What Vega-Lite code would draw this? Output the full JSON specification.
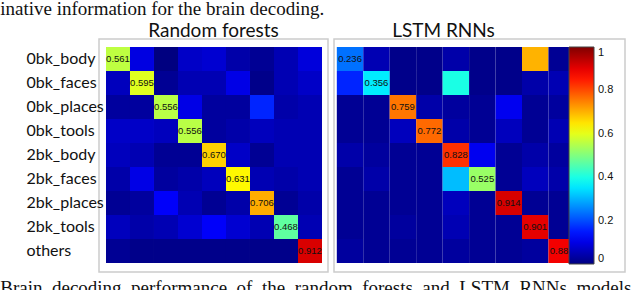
{
  "$schema": "https://vega.github.io/schema/vega-lite/v6.json",
  "padding": 0,
  "background": "white",
  "title": {"text": "inative information for the brain decoding.", "anchor": "start", "font": "Liberation Serif", "fontSize": 19, "fontWeight": "normal", "color": "#111111", "offset": 2},
  "datasets": {
    "cm": [
      {"m":"RF","t":"0bk_body","p":"0bk_body","v":0.561},{"m":"RF","t":"0bk_body","p":"0bk_faces","v":0.095},{"m":"RF","t":"0bk_body","p":"0bk_places","v":0.0},{"m":"RF","t":"0bk_body","p":"0bk_tools","v":0.07},{"m":"RF","t":"0bk_body","p":"2bk_body","v":0.08},{"m":"RF","t":"0bk_body","p":"2bk_faces","v":0.04},{"m":"RF","t":"0bk_body","p":"2bk_places","v":0.02},{"m":"RF","t":"0bk_body","p":"2bk_tools","v":0.05},{"m":"RF","t":"0bk_body","p":"others","v":0.09},
      {"m":"RF","t":"0bk_faces","p":"0bk_body","v":0.06},{"m":"RF","t":"0bk_faces","p":"0bk_faces","v":0.595},{"m":"RF","t":"0bk_faces","p":"0bk_places","v":0.02},{"m":"RF","t":"0bk_faces","p":"0bk_tools","v":0.05},{"m":"RF","t":"0bk_faces","p":"2bk_body","v":0.05},{"m":"RF","t":"0bk_faces","p":"2bk_faces","v":0.10},{"m":"RF","t":"0bk_faces","p":"2bk_places","v":0.01},{"m":"RF","t":"0bk_faces","p":"2bk_tools","v":0.05},{"m":"RF","t":"0bk_faces","p":"others","v":0.07},
      {"m":"RF","t":"0bk_places","p":"0bk_body","v":0.03},{"m":"RF","t":"0bk_places","p":"0bk_faces","v":0.03},{"m":"RF","t":"0bk_places","p":"0bk_places","v":0.556},{"m":"RF","t":"0bk_places","p":"0bk_tools","v":0.10},{"m":"RF","t":"0bk_places","p":"2bk_body","v":0.03},{"m":"RF","t":"0bk_places","p":"2bk_faces","v":0.03},{"m":"RF","t":"0bk_places","p":"2bk_places","v":0.16},{"m":"RF","t":"0bk_places","p":"2bk_tools","v":0.04},{"m":"RF","t":"0bk_places","p":"others","v":0.05},
      {"m":"RF","t":"0bk_tools","p":"0bk_body","v":0.07},{"m":"RF","t":"0bk_tools","p":"0bk_faces","v":0.07},{"m":"RF","t":"0bk_tools","p":"0bk_places","v":0.06},{"m":"RF","t":"0bk_tools","p":"0bk_tools","v":0.556},{"m":"RF","t":"0bk_tools","p":"2bk_body","v":0.03},{"m":"RF","t":"0bk_tools","p":"2bk_faces","v":0.04},{"m":"RF","t":"0bk_tools","p":"2bk_places","v":0.06},{"m":"RF","t":"0bk_tools","p":"2bk_tools","v":0.05},{"m":"RF","t":"0bk_tools","p":"others","v":0.05},
      {"m":"RF","t":"2bk_body","p":"0bk_body","v":0.06},{"m":"RF","t":"2bk_body","p":"0bk_faces","v":0.05},{"m":"RF","t":"2bk_body","p":"0bk_places","v":0.02},{"m":"RF","t":"2bk_body","p":"0bk_tools","v":0.02},{"m":"RF","t":"2bk_body","p":"2bk_body","v":0.670},{"m":"RF","t":"2bk_body","p":"2bk_faces","v":0.07},{"m":"RF","t":"2bk_body","p":"2bk_places","v":0.02},{"m":"RF","t":"2bk_body","p":"2bk_tools","v":0.05},{"m":"RF","t":"2bk_body","p":"others","v":0.05},
      {"m":"RF","t":"2bk_faces","p":"0bk_body","v":0.04},{"m":"RF","t":"2bk_faces","p":"0bk_faces","v":0.10},{"m":"RF","t":"2bk_faces","p":"0bk_places","v":0.03},{"m":"RF","t":"2bk_faces","p":"0bk_tools","v":0.04},{"m":"RF","t":"2bk_faces","p":"2bk_body","v":0.06},{"m":"RF","t":"2bk_faces","p":"2bk_faces","v":0.631},{"m":"RF","t":"2bk_faces","p":"2bk_places","v":0.05},{"m":"RF","t":"2bk_faces","p":"2bk_tools","v":0.04},{"m":"RF","t":"2bk_faces","p":"others","v":0.05},
      {"m":"RF","t":"2bk_places","p":"0bk_body","v":0.02},{"m":"RF","t":"2bk_places","p":"0bk_faces","v":0.03},{"m":"RF","t":"2bk_places","p":"0bk_places","v":0.12},{"m":"RF","t":"2bk_places","p":"0bk_tools","v":0.05},{"m":"RF","t":"2bk_places","p":"2bk_body","v":0.02},{"m":"RF","t":"2bk_places","p":"2bk_faces","v":0.04},{"m":"RF","t":"2bk_places","p":"2bk_places","v":0.706},{"m":"RF","t":"2bk_places","p":"2bk_tools","v":0.02},{"m":"RF","t":"2bk_places","p":"others","v":0.04},
      {"m":"RF","t":"2bk_tools","p":"0bk_body","v":0.06},{"m":"RF","t":"2bk_tools","p":"0bk_faces","v":0.04},{"m":"RF","t":"2bk_tools","p":"0bk_places","v":0.05},{"m":"RF","t":"2bk_tools","p":"0bk_tools","v":0.08},{"m":"RF","t":"2bk_tools","p":"2bk_body","v":0.12},{"m":"RF","t":"2bk_tools","p":"2bk_faces","v":0.08},{"m":"RF","t":"2bk_tools","p":"2bk_places","v":0.05},{"m":"RF","t":"2bk_tools","p":"2bk_tools","v":0.468},{"m":"RF","t":"2bk_tools","p":"others","v":0.05},
      {"m":"RF","t":"others","p":"0bk_body","v":0.02},{"m":"RF","t":"others","p":"0bk_faces","v":0.01},{"m":"RF","t":"others","p":"0bk_places","v":0.01},{"m":"RF","t":"others","p":"0bk_tools","v":0.01},{"m":"RF","t":"others","p":"2bk_body","v":0.01},{"m":"RF","t":"others","p":"2bk_faces","v":0.01},{"m":"RF","t":"others","p":"2bk_places","v":0.01},{"m":"RF","t":"others","p":"2bk_tools","v":0.01},{"m":"RF","t":"others","p":"others","v":0.912},
      {"m":"LSTM","t":"0bk_body","p":"0bk_body","v":0.236},{"m":"LSTM","t":"0bk_body","p":"0bk_faces","v":0.05},{"m":"LSTM","t":"0bk_body","p":"0bk_places","v":0.01},{"m":"LSTM","t":"0bk_body","p":"0bk_tools","v":0.01},{"m":"LSTM","t":"0bk_body","p":"2bk_body","v":0.04},{"m":"LSTM","t":"0bk_body","p":"2bk_faces","v":0.01},{"m":"LSTM","t":"0bk_body","p":"2bk_places","v":0.01},{"m":"LSTM","t":"0bk_body","p":"2bk_tools","v":0.70},{"m":"LSTM","t":"0bk_body","p":"others","v":0.02},
      {"m":"LSTM","t":"0bk_faces","p":"0bk_body","v":0.16},{"m":"LSTM","t":"0bk_faces","p":"0bk_faces","v":0.356},{"m":"LSTM","t":"0bk_faces","p":"0bk_places","v":0.01},{"m":"LSTM","t":"0bk_faces","p":"0bk_tools","v":0.01},{"m":"LSTM","t":"0bk_faces","p":"2bk_body","v":0.40},{"m":"LSTM","t":"0bk_faces","p":"2bk_faces","v":0.01},{"m":"LSTM","t":"0bk_faces","p":"2bk_places","v":0.01},{"m":"LSTM","t":"0bk_faces","p":"2bk_tools","v":0.04},{"m":"LSTM","t":"0bk_faces","p":"others","v":0.05},
      {"m":"LSTM","t":"0bk_places","p":"0bk_body","v":0.02},{"m":"LSTM","t":"0bk_places","p":"0bk_faces","v":0.02},{"m":"LSTM","t":"0bk_places","p":"0bk_places","v":0.759},{"m":"LSTM","t":"0bk_places","p":"0bk_tools","v":0.04},{"m":"LSTM","t":"0bk_places","p":"2bk_body","v":0.03},{"m":"LSTM","t":"0bk_places","p":"2bk_faces","v":0.02},{"m":"LSTM","t":"0bk_places","p":"2bk_places","v":0.11},{"m":"LSTM","t":"0bk_places","p":"2bk_tools","v":0.02},{"m":"LSTM","t":"0bk_places","p":"others","v":0.03},
      {"m":"LSTM","t":"0bk_tools","p":"0bk_body","v":0.02},{"m":"LSTM","t":"0bk_tools","p":"0bk_faces","v":0.02},{"m":"LSTM","t":"0bk_tools","p":"0bk_places","v":0.06},{"m":"LSTM","t":"0bk_tools","p":"0bk_tools","v":0.772},{"m":"LSTM","t":"0bk_tools","p":"2bk_body","v":0.04},{"m":"LSTM","t":"0bk_tools","p":"2bk_faces","v":0.02},{"m":"LSTM","t":"0bk_tools","p":"2bk_places","v":0.06},{"m":"LSTM","t":"0bk_tools","p":"2bk_tools","v":0.02},{"m":"LSTM","t":"0bk_tools","p":"others","v":0.05},
      {"m":"LSTM","t":"2bk_body","p":"0bk_body","v":0.04},{"m":"LSTM","t":"2bk_body","p":"0bk_faces","v":0.03},{"m":"LSTM","t":"2bk_body","p":"0bk_places","v":0.02},{"m":"LSTM","t":"2bk_body","p":"0bk_tools","v":0.02},{"m":"LSTM","t":"2bk_body","p":"2bk_body","v":0.828},{"m":"LSTM","t":"2bk_body","p":"2bk_faces","v":0.11},{"m":"LSTM","t":"2bk_body","p":"2bk_places","v":0.02},{"m":"LSTM","t":"2bk_body","p":"2bk_tools","v":0.04},{"m":"LSTM","t":"2bk_body","p":"others","v":0.03},
      {"m":"LSTM","t":"2bk_faces","p":"0bk_body","v":0.02},{"m":"LSTM","t":"2bk_faces","p":"0bk_faces","v":0.04},{"m":"LSTM","t":"2bk_faces","p":"0bk_places","v":0.02},{"m":"LSTM","t":"2bk_faces","p":"0bk_tools","v":0.02},{"m":"LSTM","t":"2bk_faces","p":"2bk_body","v":0.31},{"m":"LSTM","t":"2bk_faces","p":"2bk_faces","v":0.525},{"m":"LSTM","t":"2bk_faces","p":"2bk_places","v":0.02},{"m":"LSTM","t":"2bk_faces","p":"2bk_tools","v":0.06},{"m":"LSTM","t":"2bk_faces","p":"others","v":0.04},
      {"m":"LSTM","t":"2bk_places","p":"0bk_body","v":0.02},{"m":"LSTM","t":"2bk_places","p":"0bk_faces","v":0.02},{"m":"LSTM","t":"2bk_places","p":"0bk_places","v":0.02},{"m":"LSTM","t":"2bk_places","p":"0bk_tools","v":0.02},{"m":"LSTM","t":"2bk_places","p":"2bk_body","v":0.06},{"m":"LSTM","t":"2bk_places","p":"2bk_faces","v":0.02},{"m":"LSTM","t":"2bk_places","p":"2bk_places","v":0.914},{"m":"LSTM","t":"2bk_places","p":"2bk_tools","v":0.02},{"m":"LSTM","t":"2bk_places","p":"others","v":0.02},
      {"m":"LSTM","t":"2bk_tools","p":"0bk_body","v":0.02},{"m":"LSTM","t":"2bk_tools","p":"0bk_faces","v":0.02},{"m":"LSTM","t":"2bk_tools","p":"0bk_places","v":0.03},{"m":"LSTM","t":"2bk_tools","p":"0bk_tools","v":0.02},{"m":"LSTM","t":"2bk_tools","p":"2bk_body","v":0.05},{"m":"LSTM","t":"2bk_tools","p":"2bk_faces","v":0.02},{"m":"LSTM","t":"2bk_tools","p":"2bk_places","v":0.02},{"m":"LSTM","t":"2bk_tools","p":"2bk_tools","v":0.901},{"m":"LSTM","t":"2bk_tools","p":"others","v":0.02},
      {"m":"LSTM","t":"others","p":"0bk_body","v":0.03},{"m":"LSTM","t":"others","p":"0bk_faces","v":0.02},{"m":"LSTM","t":"others","p":"0bk_places","v":0.02},{"m":"LSTM","t":"others","p":"0bk_tools","v":0.02},{"m":"LSTM","t":"others","p":"2bk_body","v":0.03},{"m":"LSTM","t":"others","p":"2bk_faces","v":0.02},{"m":"LSTM","t":"others","p":"2bk_places","v":0.02},{"m":"LSTM","t":"others","p":"2bk_tools","v":0.03},{"m":"LSTM","t":"others","p":"others","v":0.886}
    ]
  },
  "vconcat": [
    {
      "title": {"text": "Brain\u00a0 decoding\u00a0 performance\u00a0 of\u00a0 the\u00a0 random\u00a0 forests\u00a0 and\u00a0 LSTM\u00a0 RNNs\u00a0 models", "orient": "bottom", "anchor": "start", "font": "Liberation Serif", "fontSize": 19, "fontWeight": "normal", "color": "#111111", "offset": 6},
      "spacing": 4,
      "resolve": {"scale": {"color": "independent"}, "legend": {"color": "independent"}},
      "hconcat": [
        {
          "width": 229,
          "height": 233,
          "title": {"text": "Random forests", "font": "Lato", "fontSize": 19, "fontWeight": "normal", "color": "#111111", "offset": -2},
          "data": {"name": "cm"},
          "transform": [{"filter": "datum.m === 'RF'"}],
          "encoding": {
            "x": {"field": "p", "type": "nominal", "sort": ["0bk_body","0bk_faces","0bk_places","0bk_tools","2bk_body","2bk_faces","2bk_places","2bk_tools","others"], "axis": null, "scale": {"paddingInner": 0, "paddingOuter": 0.2708, "align": 0.538}},
            "y": {"field": "t", "type": "nominal", "sort": ["0bk_body","0bk_faces","0bk_places","0bk_tools","2bk_body","2bk_faces","2bk_places","2bk_tools","others"], "scale": {"paddingInner": 0, "paddingOuter": 0.354, "align": 0.47}, "axis": {"title": null, "ticks": false, "tickSize": 0, "domain": false, "labelAlign": "left", "labelPadding": 73, "minExtent": 98, "maxExtent": 98, "labelFont": "Lato", "labelFontSize": 16, "labelColor": "#111111"}}
          },
          "layer": [
            {"mark": {"type": "rect"}, "encoding": {"color": {"field": "v", "type": "quantitative", "legend": null, "scale": {"type": "linear", "domain": [0, 0.125, 0.375, 0.625, 0.875, 1], "range": ["#000080", "#0000ff", "#00ffff", "#ffff00", "#ff0000", "#800000"], "interpolate": "rgb"}}}},
            {"transform": [{"filter": "datum.t === datum.p"}], "mark": {"type": "text", "font": "Liberation Sans", "fontSize": 9.5, "color": "#111111"}, "encoding": {"text": {"field": "v", "type": "quantitative", "format": ".3f"}}}
          ]
        },
        {
          "width": 291,
          "height": 233,
          "title": {"text": "LSTM RNNs", "font": "Lato", "fontSize": 19, "fontWeight": "normal", "color": "#111111", "offset": -2, "dx": -36},
          "data": {"name": "cm"},
          "transform": [{"filter": "datum.m === 'LSTM'"}],
          "encoding": {
            "x": {"field": "p", "type": "nominal", "sort": ["0bk_body","0bk_faces","0bk_places","0bk_tools","2bk_body","2bk_faces","2bk_places","2bk_tools","others"], "axis": null, "scale": {"paddingInner": 0, "paddingOuter": 1.5625, "align": 0.053}},
            "y": {"field": "t", "type": "nominal", "sort": ["0bk_body","0bk_faces","0bk_places","0bk_tools","2bk_body","2bk_faces","2bk_places","2bk_tools","others"], "scale": {"paddingInner": 0, "paddingOuter": 0.354, "align": 0.47}, "axis": null}
          },
          "layer": [
            {"mark": {"type": "rect"}, "encoding": {"color": {"field": "v", "type": "quantitative", "scale": {"type": "linear", "domain": [0, 0.125, 0.375, 0.625, 0.875, 1], "range": ["#000080", "#0000ff", "#00ffff", "#ffff00", "#ff0000", "#800000"], "interpolate": "rgb"}, "legend": {"title": null, "orient": "none", "legendX": 235, "legendY": 8, "direction": "vertical", "gradientLength": 217, "gradientThickness": 25, "values": [0, 0.2, 0.4, 0.6, 0.8, 1], "format": "~g", "labelFont": "Liberation Sans", "labelFontSize": 11, "labelColor": "#111111", "labelOffset": 4, "gradientStrokeColor": "#444444", "gradientStrokeWidth": 1}}}},
            {"transform": [{"filter": "datum.t === datum.p"}], "mark": {"type": "text", "font": "Liberation Sans", "fontSize": 9.5, "color": "#111111"}, "encoding": {"text": {"field": "v", "type": "quantitative", "format": ".3f"}}}
          ]
        }
      ]
    }
  ],
  "config": {"view": {"stroke": "#cccccc", "strokeWidth": 1.5}, "concat": {"spacing": 4}}
}
